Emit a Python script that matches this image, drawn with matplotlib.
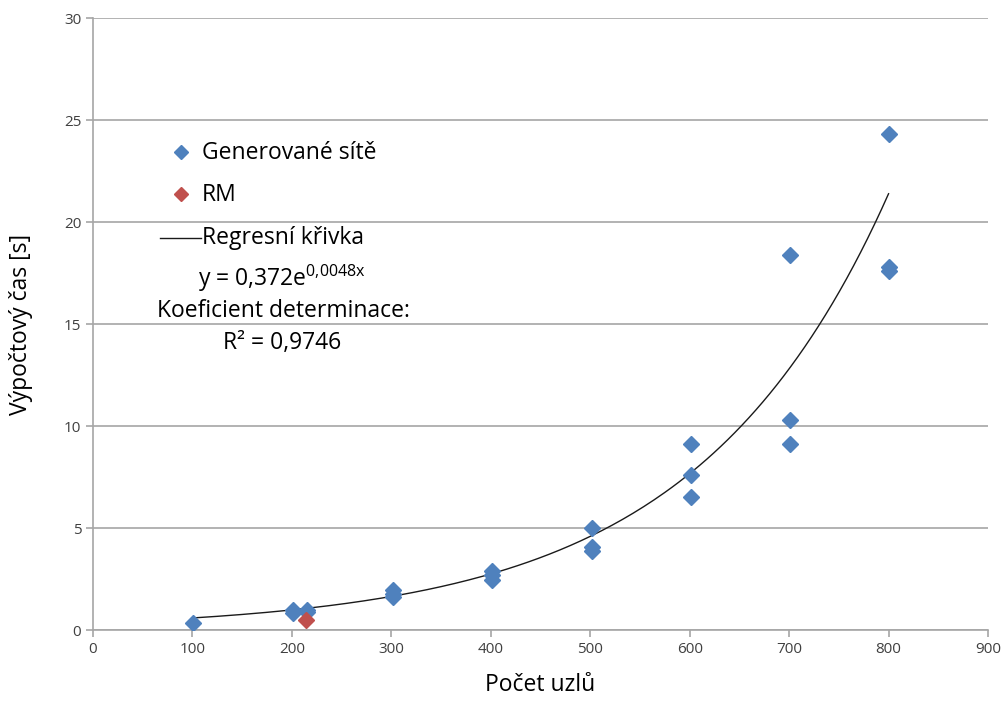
import numpy as np
import matplotlib.pyplot as plt

# Generated networks (node count, computation time in s)
gen_x = [101, 201, 201, 215, 215, 302, 302, 302, 401, 401, 401,
         502, 502, 502, 601, 601, 601, 701, 701, 701, 800, 800, 800]
gen_y = [0.35, 0.85, 1.0, 1.0, 0.9, 1.95, 1.75, 1.6, 2.9, 2.7, 2.45,
         5.0, 4.05, 3.85, 9.1, 7.6, 6.5, 18.4, 10.3, 9.1, 24.3, 17.8, 17.6]

# Real network (RM)
rm_x = [214]
rm_y = [0.5]

# Regression curve as drawn
fit_a = 0.353
fit_k = 0.00513

blue = '#4F81BD'
red = '#C0504D'
grid_col = '#A6A6A6'

plt.rcParams['font.family'] = ['Open Sans', 'DejaVu Sans']
plt.rcParams['mathtext.default'] = 'regular'

fig = plt.figure(figsize=(10.02, 7.01), dpi=100)
ax = fig.add_axes([93 / 1002, 1 - 630 / 701, (988 - 93) / 1002, (630 - 18) / 701])

xs = np.linspace(100, 800, 200)
ax.plot(xs, fit_a * np.exp(fit_k * xs), color='#1a1a1a', lw=1.0, zorder=2)
ax.plot(gen_x, gen_y, 'D', color=blue, ms=8, mec=blue, zorder=3)
ax.plot(rm_x, rm_y, 'D', color=red, ms=8, mec=red, zorder=4)

ax.set_xlim(0, 900)
ax.set_ylim(0, 30)
ax.set_xticks(range(0, 901, 100))
ax.set_yticks(range(0, 31, 5))
ax.yaxis.grid(True, color=grid_col, lw=1.2)
ax.set_axisbelow(True)
for s in ['top', 'right']:
    ax.spines[s].set_visible(False)
for s in ['left', 'bottom']:
    ax.spines[s].set_color(grid_col)
    ax.spines[s].set_linewidth(1.2)
ax.tick_params(colors=grid_col, labelcolor='#404040', labelsize=11, length=5, width=1.2)

ax.set_xlabel('Počet uzlů', fontsize=16.5, labelpad=12)
ax.set_ylabel('Výpočtový čas [s]', fontsize=16.5, labelpad=22)

# Legend block drawn as text
def fx(px):
    return px / 1002

def fy(py):
    return 1 - py / 701

fig.lines.append(plt.Line2D([fx(181)], [fy(152)], marker='D', color=blue, ms=7, transform=fig.transFigure))
fig.lines.append(plt.Line2D([fx(181)], [fy(194)], marker='D', color=red, ms=7, transform=fig.transFigure))
fig.lines.append(plt.Line2D([fx(160), fx(201)], [fy(238), fy(238)], color='#1a1a1a', lw=1.0, transform=fig.transFigure))
fig.text(fx(202), fy(153), 'Generované sítě', fontsize=16.5, va='center')
fig.text(fx(202), fy(195), 'RM', fontsize=16.5, va='center')
fig.text(fx(202), fy(238), 'Regresní křivka', fontsize=16.5, va='center')
fig.text(fx(282), fy(278), r'y = 0,372e$^{0{,}0048x}$', fontsize=16.5, va='center', ha='center')
fig.text(fx(283), fy(311), 'Koeficient determinace:', fontsize=16.5, va='center', ha='center')
fig.text(fx(282), fy(343), 'R² = 0,9746', fontsize=16.5, va='center', ha='center')

fig.savefig('out.png', dpi=100)
